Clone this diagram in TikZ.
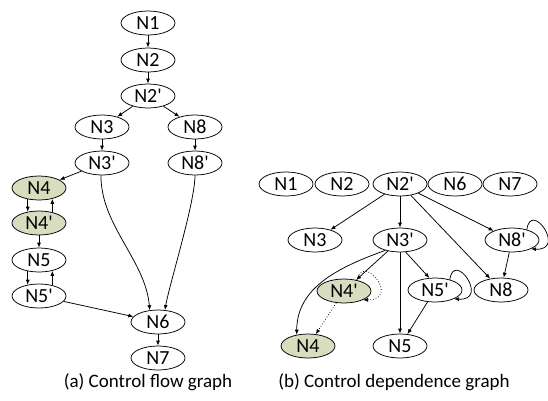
\documentclass[tikz,border=0pt]{standalone}
\usepackage{fontspec}
\setmainfont{Carlito}[Ligatures=TeXOff]
\usepackage{tikz}
\usetikzlibrary{shapes.geometric,arrows.meta,positioning,calc}
\definecolor{nodegreen}{RGB}{215,221,190}

\begin{document}
\begin{tikzpicture}[
    x=1pt, y=1pt,
    blk/.style={ellipse, draw, line width=0.75pt, minimum width=54pt, minimum height=24pt, inner sep=0pt, font=\fontsize{20}{22}\selectfont},
    hot/.style={blk, fill=nodegreen},
    flow/.style={line width=0.75pt, -{Latex[length=5pt,width=4pt]}},
    dotflow/.style={flow, dotted},
    subcap/.style={font=\fontsize{19}{22}\selectfont}
]
\useasboundingbox (0,0) rectangle (548,-400);
% (a) Control flow graph
\node[blk] (a1) at (148,-23) {N1};
\node[blk] (a2) at (148,-60) {N2};
\node[blk] (a2p) at (148,-96) {N2'};
\node[blk] (a3) at (102,-127) {N3};
\node[blk] (a8) at (195,-127) {N8};
\node[blk] (a3p) at (102,-163) {N3'};
\node[blk] (a8p) at (195,-163) {N8'};
\node[hot] (a4) at (39,-188) {N4};
\node[hot] (a4p) at (39,-223) {N4'};
\node[blk] (a5) at (39,-260) {N5};
\node[blk] (a5p) at (39,-296) {N5'};
\node[blk] (a6) at (158,-322) {N6};
\node[blk] (a7) at (158,-358) {N7};
\draw[flow] (a1) -- (a2);
\draw[flow] (a2) -- (a2p);
\draw[flow] (a2p) -- (a3);
\draw[flow] (a2p) -- (a8);
\draw[flow] (a3) -- (a3p);
\draw[flow] (a8) -- (a8p);
\draw[flow] (a3p) -- (a4);
\draw[flow] (a4.-135) -- (a4p.135);
\draw[flow] (a4p.39) -- (a4.-39);
\draw[flow] (a4p) -- (a5);
\draw[flow] (a5.-135) -- (a5p.135);
\draw[flow] (a5p.39) -- (a5.-39);
\draw[flow] (a5p) -- (a6);
\draw[flow] (a3p.-95) to[out=-90,in=95,looseness=0.9] (a6.125);
\draw[flow] (a8p.-90) to[out=-90,in=80,looseness=0.5] (a6.60);
\draw[flow] (a6) -- (a7);
\node[subcap] (capA) at (148,-382) {(a) Control flow graph};
% (b) Control dependence graph
\node[blk] (b1) at (286,-184) {N1};
\node[blk] (b2) at (342,-184) {N2};
\node[blk] (b2p) at (400,-184) {N2'};
\node[blk] (b6) at (455,-184) {N6};
\node[blk] (b7) at (510,-184) {N7};
\node[blk] (b3) at (315,-240) {N3};
\node[blk] (b3p) at (400,-240) {N3'};
\node[blk] (b8p) at (512,-240) {N8'};
\node[hot] (b4p) at (344,-291) {N4'};
\node[blk] (b5p) at (435,-290) {N5'};
\node[blk] (b8) at (501,-290) {N8};
\node[hot] (b4) at (308,-346) {N4};
\node[blk] (b5) at (400,-346) {N5};
\draw[flow] (b2p) -- (b3);
\draw[flow] (b2p) -- (b3p);
\draw[flow] (b2p) -- (b8p);
\draw[flow] (b2p) -- (b8);
\draw[flow] (b8p.35) .. controls +(4,30) and +(36,-2) .. (b8p.-25);
\draw[flow] (b8p) -- (b8);
\draw[flow] (b3p.215) to[out=200,in=90] (b4.135);
\draw[flow] (b3p) -- (b4p);
\draw[flow] (b3p) -- (b5);
\draw[flow] (b3p.-65) -- (b5p.115);
\draw[flow] (b5p.35) .. controls +(4,30) and +(36,-2) .. (b5p.-25);
\draw[flow] (b5p) -- (b5);
\draw[dotflow] (b4p.40) .. controls +(6,28) and +(38,0) .. (b4p.-25);
\draw[dotflow] (b4p) -- (b4);
\node[subcap] (capB) at (394,-382) {(b) Control dependence graph};
\end{tikzpicture}
\end{document}
